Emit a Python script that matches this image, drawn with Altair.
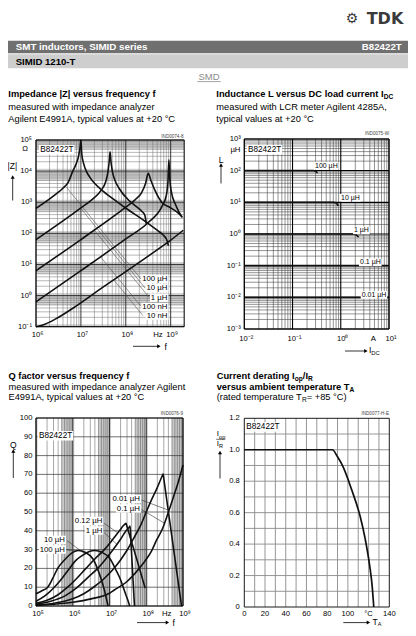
import math
import altair as alt
import pandas as pd

FONT = "Liberation Sans"
M = 8  # page margin

# ======================= values =======================
# --- |Z| versus f : log10(f/Hz) and log10(|Z|/ohm) along each curve ---
z_logf_100u = [6.0, 6.4, 6.6, 6.72, 6.82, 6.9, 6.95, 6.98, 7.0, 7.02, 7.06, 7.12, 7.2, 7.31, 7.5, 7.8, 8.06, 8.4, 8.7, 8.85, 8.91, 8.95]
z_logz_100u = [2.80, 3.21, 3.45, 3.65, 4.0, 4.25, 4.5, 4.75, 5.0, 4.55, 4.25, 4.0, 3.8, 3.6, 3.35, 3.02, 2.75, 2.42, 2.1, 1.92, 1.8, 1.6]
z_logf_10u = [6.0, 7.0, 7.3, 7.45, 7.55, 7.6, 7.63, 7.65, 7.67, 7.7, 7.76, 7.85, 8.06, 8.2, 8.35, 8.42, 8.46]
z_logz_10u = [1.80, 2.82, 3.15, 3.38, 3.65, 3.95, 4.3, 4.62, 4.3, 4.0, 3.7, 3.45, 3.07, 2.9, 2.72, 2.6, 2.3]
z_logf_1u = [6.0, 7.0, 8.0, 8.2, 8.35, 8.44, 8.5, 8.56, 8.65, 8.8, 9.0, 9.17, 9.24]
z_logz_1u = [0.80, 1.80, 2.84, 3.07, 3.3, 3.6, 3.93, 3.7, 3.38, 3.0, 2.82, 2.65, 2.55]
z_logf_100n = [6.0, 7.0, 8.0, 8.5, 8.8, 8.9, 8.94, 8.96, 8.98, 9.02, 9.1, 9.18, 9.26]
z_logz_100n = [-0.2, 0.8, 1.82, 2.35, 2.85, 3.2, 3.7, 4.36, 3.75, 3.3, 2.95, 2.7, 2.51]
z_logf_10n = [6.0, 6.2, 6.45, 6.9, 7.5, 8.0, 8.5, 9.0, 9.28]
z_logz_10n = [-1.0, -0.92, -0.74, -0.33, 0.28, 0.77, 1.27, 1.78, 2.1]
z_names = ["100 µH", "10 µH", "1 µH", "100 nH", "10 nH"]
z_lead_logf0 = [6.68, 7.00, 7.30, 7.44, 7.73]
z_lead_logz0 = [3.48, 2.80, 2.10, 1.24, 0.51]
z_lead_logf1 = [8.34, 8.43, 8.52, 8.34, 8.38]
z_lead_logz1 = [0.53, 0.24, -0.06, -0.35, -0.64]
z_xticks = [1e6, 1e7, 1e8, 1e9]
z_xlabels = ["10⁶", "10⁷", "10⁸", "10⁹"]
z_yticks = [1e-1, 1e0, 1e1, 1e2, 1e3, 1e4, 1e5]
z_ylabels = ["10⁻¹", "10⁰", "10¹", "10²", "10³", "10⁴", "10⁵"]

# --- L versus I_DC (A, µH) ---
l_i_100u = [0.01, 0.27, 0.30, 0.33]
l_l_100u = [100, 100, 96, 84]
l_i_10u = [0.01, 0.70, 0.80, 0.89]
l_l_10u = [10, 10, 9.5, 7.8]
l_i_1u = [0.01, 1.8, 2.05, 2.35]
l_l_1u = [1, 1, 0.95, 0.8]
l_i_01u = [0.01, 9.5]
l_l_01u = [0.1, 0.1]
l_i_001u = [0.01, 10]
l_l_001u = [0.01, 0.01]
l_names = ["100 µH", "10 µH", "1 µH", "0.1 µH", "0.01 µH"]
l_xticks = [0.01, 0.1, 1, 10]
l_xlabels = ["10⁻²", "10⁻¹", "10⁰", "10¹"]
l_yticks = [1e-3, 1e-2, 1e-1, 1e0, 1e1, 1e2, 1e3]
l_ylabels = ["10⁻³", "10⁻²", "10⁻¹", "10⁰", "10¹", "10²", "10³"]

# --- Q versus f : log10(f/Hz) and Q ---
q_logf_100u = [5.0, 5.15, 5.32, 5.45, 5.59, 5.8, 6.0, 6.15, 6.35, 6.55, 6.72, 6.86, 6.96]
q_q_100u = [6.5, 8, 10, 14.5, 20, 25, 28.5, 29.5, 28.5, 25, 17.4, 8.5, 0]
q_logf_10u = [5.0, 5.25, 5.5, 5.7, 5.91, 6.1, 6.27, 6.45, 6.6, 6.8, 7.0, 7.18, 7.3, 7.4, 7.5, 7.55]
q_q_10u = [2.5, 5.5, 10, 14.5, 20, 24.5, 27, 29, 29.5, 28.5, 25.5, 19, 14, 8.5, 3, 0]
q_logf_012u = [5.0, 5.3, 5.6, 5.86, 6.1, 6.36, 6.6, 6.86, 7.05, 7.27, 7.38, 7.43, 7.45, 7.47, 7.6, 7.8, 7.97]
q_q_012u = [1.5, 3.0, 6.0, 10, 14.5, 20, 25, 30, 34.5, 40, 42.8, 43.7, 44, 42.7, 34.2, 21, 9.5]
q_logf_1u = [5.0, 5.4, 5.8, 6.13, 6.4, 6.68, 6.9, 7.1, 7.3, 7.45, 7.54, 7.56, 7.58, 7.63, 7.68]
q_q_1u = [1.0, 2.5, 5.5, 10, 15, 20, 25, 30, 35.5, 40, 42, 42.5, 35.5, 17.5, 0]
q_logf_01u = [5.0, 5.5, 6.0, 6.3, 6.6, 6.85, 7.1, 7.3, 7.51, 7.7, 7.83, 8.0, 8.1, 8.3, 8.44, 8.46, 8.48, 8.96]
q_q_01u = [0.5, 1.5, 3.8, 6.5, 10.5, 14.5, 19.5, 24.5, 30.7, 37.5, 42.2, 50, 54.6, 63, 69.4, 70.2, 67.4, 0]
q_logf_001u = [5.0, 5.5, 6.0, 6.5, 7.0, 7.13, 7.47, 7.7, 7.92, 8.15, 8.28, 8.45, 8.56, 8.74, 8.88, 9.0]
q_q_001u = [0.3, 0.9, 2.0, 3.8, 6.8, 8.5, 12.9, 17.5, 22.7, 29.5, 35, 41.5, 47.5, 58, 66.5, 75]
q_names = ["0.01 µH", "0.1 µH", "0.12 µH", "1 µH", "10 µH", "100 µH"]
q_lead_logf0 = [7.871, 7.871, 6.85, 6.85, 5.844, 5.844]
q_lead_q0 = [56.4, 51.3, 44.0, 39.1, 34.8, 29.8]
q_lead_logf1 = [8.60, 8.50, 7.22, 7.20, 6.33, 6.10]
q_lead_q1 = [51.0, 44.0, 39.0, 32.8, 27.7, 29.3]
q_xticks = [1e5, 1e6, 1e7, 1e8, 1e9]
q_xlabels = ["10⁵", "10⁶", "10⁷", "10⁸", "10⁹"]
q_yticks = [0, 10, 20, 30, 40, 50, 60, 70, 80, 90, 100]
q_ylabels = ["0", "10", "20", "30", "40", "50", "60", "70", "80", "90", "100"]

# --- current derating I_op/I_R versus T_A ---
d_temp = [0, 85, 90, 95.5, 103.7, 111.9, 116.8, 121.1, 123.5, 125]
d_ratio = [1.0, 1.0, 0.955, 0.89, 0.745, 0.575, 0.43, 0.26, 0.13, 0.0]
d_xticks = [0, 20, 40, 60, 80, 100, 120, 140]
d_xlabels = ["0", "20", "40", "60", "80", "100", "°C", "140"]
d_yticks = [0, 0.2, 0.4, 0.6, 0.8, 1.0, 1.2]
d_ylabels = ["0", "0.2", "0.4", "0.6", "0.8", "1.0", "1.2"]

grid_mantissas = [1, 2, 3, 4, 5, 6, 7, 8, 9]

# ======================= helpers =======================
HR = {' ': 278, '(': 333, ')': 333, '+': 584, ',': 278, '-': 333, '.': 278, '/': 278, '=': 584, '°': 400, '|': 260, 'µ': 556,
      'A': 667, 'B': 667, 'C': 722, 'D': 722, 'E': 667, 'F': 611, 'G': 778, 'H': 722, 'I': 278, 'J': 500, 'K': 667, 'L': 556,
      'M': 833, 'N': 722, 'O': 778, 'P': 667, 'Q': 778, 'R': 722, 'S': 667, 'T': 611, 'U': 722, 'V': 667, 'W': 944, 'X': 667,
      'Y': 667, 'Z': 611, 'a': 556, 'b': 556, 'c': 500, 'd': 556, 'e': 556, 'f': 278, 'g': 556, 'h': 556, 'i': 222, 'j': 222,
      'k': 500, 'l': 222, 'm': 833, 'n': 556, 'o': 556, 'p': 556, 'q': 556, 'r': 333, 's': 500, 't': 278, 'u': 556, 'v': 500,
      'w': 722, 'x': 500, 'y': 500, 'z': 500}
HB = dict(HR)
HB.update({'|': 280, 'µ': 611, 'A': 722, 'B': 722, 'J': 556, 'K': 722, 'L': 611, 'b': 611, 'c': 556, 'd': 611, 'f': 333,
           'g': 611, 'h': 611, 'i': 278, 'j': 278, 'k': 556, 'l': 278, 'm': 889, 'n': 611, 'o': 611, 'p': 611, 'q': 611,
           'r': 389, 's': 556, 't': 333, 'u': 611, 'v': 556, 'w': 778, 'x': 556, 'y': 556})


def tw(s, size, bold=False):
    t = HB if bold else HR
    return sum(t.get(c, 556) for c in s) * size / 1000.0


dummy = pd.DataFrame({"k": [0]})


def txt(x, y, s, size, weight="normal", align="left", color="black", font=FONT):
    return alt.Chart(dummy).mark_text(text=s, fontSize=size, fontWeight=weight, align=align, baseline="middle",
                                      color=color, font=font).encode(x=alt.value(x - M), y=alt.value(y - M))


def runs(x, y, parts):
    out = []
    cx = x
    for s, size, bold, dy in parts:
        out.append(txt(cx, y + dy, s, size, "bold" if bold else "normal"))
        cx += tw(s, size, bold)
    return out


def prect(x0, y0, x1, y1, fill):
    return alt.Chart(dummy).mark_rect(color=fill).encode(
        x=alt.value(x0 - M), x2=alt.value(x1 - M), y=alt.value(y0 - M), y2=alt.value(y1 - M))


def prule(x0, y0, x1, y1, color="black", w=0.8):
    return alt.Chart(dummy).mark_rule(color=color, strokeWidth=w).encode(
        x=alt.value(x0 - M), x2=alt.value(x1 - M), y=alt.value(y0 - M), y2=alt.value(y1 - M))


def ppoint(x, y, shape, size=16):
    return alt.Chart(dummy).mark_point(shape=shape, filled=True, size=size, color="black", opacity=1).encode(
        x=alt.value(x - M), y=alt.value(y - M))


def varrow(x, ytip, ybot):
    return [prule(x, ytip + 2, x, ybot, "black", 0.8), ppoint(x, ytip + 1.6, "triangle-up")]


def harrow(y, x0, xtip):
    return [prule(x0, y, xtip - 2, y, "black", 0.8), ppoint(xtip - 1.6, y, "triangle-right")]


def lscale(dom, r):
    return alt.Scale(type="log", domain=dom, range=[r[0] - M, r[1] - M], nice=False)


def linscale(dom, r):
    return alt.Scale(type="linear", domain=dom, range=[r[0] - M, r[1] - M], nice=False, zero=False)


def X(f, s):
    return alt.X(f + ":Q", scale=s, axis=None)


def Y(f, s):
    return alt.Y(f + ":Q", scale=s, axis=None)


def log_vals(lo, hi):
    out = []
    for d in range(int(math.floor(math.log10(lo))), int(math.ceil(math.log10(hi))) + 1):
        for m in grid_mantissas:
            v = m * 10.0 ** d
            if lo * (1 - 1e-9) <= v <= hi * (1 + 1e-9):
                out.append((v, m == 1))
    return out


def vrules(xs, ys, vals, lo, hi, color, w):
    df = pd.DataFrame({"v": vals, "lo": [lo] * len(vals), "hi": [hi] * len(vals)})
    return alt.Chart(df).mark_rule(color=color, strokeWidth=w).encode(x=X("v", xs), y=Y("lo", ys), y2=alt.Y2("hi"))


def hrules(xs, ys, vals, lo, hi, color, w):
    df = pd.DataFrame({"v": vals, "lo": [lo] * len(vals), "hi": [hi] * len(vals)})
    return alt.Chart(df).mark_rule(color=color, strokeWidth=w).encode(y=Y("v", ys), x=X("lo", xs), x2=alt.X2("hi"))


def rects(xs, ys, x0, x1, y0, y1, color):
    df = pd.DataFrame({"a": x0, "b": x1, "c": y0, "d": y1})
    return alt.Chart(df).mark_rect(color=color).encode(x=X("a", xs), x2=alt.X2("b"), y=Y("c", ys), y2=alt.Y2("d"))


def frame(xs, ys, xd, yd, w=0.9):
    df = pd.DataFrame({"a": [xd[0]], "b": [xd[1]], "c": [yd[0]], "d": [yd[1]]})
    return alt.Chart(df).mark_rect(fillOpacity=0, stroke="black", strokeWidth=w).encode(
        x=X("a", xs), x2=alt.X2("b"), y=Y("c", ys), y2=alt.Y2("d"))


def curves(xs, ys, series, interp="monotone", w=1.6):
    rows = []
    for name, xv, yv in series:
        for a, b in zip(xv, yv):
            rows.append({"s": name, "x": a, "y": b})
    df = pd.DataFrame(rows)
    return alt.Chart(df).mark_line(color="#111111", strokeWidth=w, interpolate=interp).encode(
        x=X("x", xs), y=Y("y", ys), detail="s:N")


def segs(xs, ys, x0, y0, x1, y1, color, w):
    df = pd.DataFrame({"a": x0, "b": y0, "c": x1, "d": y1})
    return alt.Chart(df).mark_rule(color=color, strokeWidth=w).encode(
        x=X("a", xs), y=Y("b", ys), x2=alt.X2("c"), y2=alt.Y2("d"))


def ticktext(xs, ys, xv, yv, labels, align, dx=0, dy=0, size=7.6):
    df = pd.DataFrame({"x": xv, "y": yv, "t": labels})
    return alt.Chart(df).mark_text(font=FONT, fontSize=size, align=align, baseline="middle", dx=dx, dy=dy,
                                   color="black").encode(x=X("x", xs), y=Y("y", ys), text="t:N")


def p10(v):
    return [10.0 ** a for a in v]


# ======================= panel 1 : |Z| vs f =======================
ZD_X, ZD_Y = [1e6, 2e9], [1e-1, 1e5]
ZX = lscale(ZD_X, (36.0, 184.2))
ZY = lscale(ZD_Y, (326.7, 140.0))
zv = log_vals(*ZD_X)
zh = log_vals(*ZD_Y)
zb0, zb1 = [], []
for d in range(-2, 5):
    lo, hi = max(5 * 10.0 ** d, ZD_Y[0]), min(1.2 * 10.0 ** (d + 1), ZD_Y[1])
    if lo < hi:
        zb0.append(lo)
        zb1.append(hi)
p1 = alt.layer(
    rects(ZX, ZY, [ZD_X[0]] * len(zb0), [ZD_X[1]] * len(zb0), zb0, zb1, "#d2d2d2"),
    vrules(ZX, ZY, [v for v, mj in zv if not mj], ZD_Y[0], ZD_Y[1], "#6e6e6e", 0.5),
    hrules(ZX, ZY, [v for v, mj in zh if not mj], ZD_X[0], ZD_X[1], "#6e6e6e", 0.5),
    vrules(ZX, ZY, [v for v, mj in zv if mj], ZD_Y[0], ZD_Y[1], "#222222", 0.9),
    hrules(ZX, ZY, [v for v, mj in zh if mj], ZD_X[0], ZD_X[1], "#222222", 0.9),
    segs(ZX, ZY, p10(z_lead_logf0), p10(z_lead_logz0), p10(z_lead_logf1), p10(z_lead_logz1), "#555555", 0.6),
    curves(ZX, ZY, [("100 µH", p10(z_logf_100u), p10(z_logz_100u)),
                    ("10 µH", p10(z_logf_10u), p10(z_logz_10u)),
                    ("1 µH", p10(z_logf_1u), p10(z_logz_1u)),
                    ("100 nH", p10(z_logf_100n), p10(z_logz_100n)),
                    ("10 nH", p10(z_logf_10n), p10(z_logz_10n))]),
    frame(ZX, ZY, ZD_X, ZD_Y),
    ticktext(ZX, ZY, z_xticks, [ZD_Y[0]] * 4, z_xlabels, "center", dx=1.5, dy=8.5),
    ticktext(ZX, ZY, [ZD_X[0]] * 7, z_yticks, z_ylabels, "right", dx=-4),
)

# ======================= panel 2 : L vs I_DC =======================
LD_X, LD_Y = [0.01, 10], [1e-3, 1e3]
LX = lscale(LD_X, (244.3, 389.0))
LY = lscale(LD_Y, (329.0, 139.0))
lv = log_vals(*LD_X)
lh = log_vals(*LD_Y)
p2 = alt.layer(
    vrules(LX, LY, [v for v, mj in lv if not mj], LD_Y[0], LD_Y[1], "#3c3c3c", 0.55),
    hrules(LX, LY, [v for v, mj in lh if not mj], LD_X[0], LD_X[1], "#3c3c3c", 0.55),
    vrules(LX, LY, [v for v, mj in lv if mj], LD_Y[0], LD_Y[1], "#000000", 1.1),
    hrules(LX, LY, [v for v, mj in lh if mj], LD_X[0], LD_X[1], "#000000", 1.1),
    curves(LX, LY, [("100 µH", l_i_100u, l_l_100u), ("10 µH", l_i_10u, l_l_10u), ("1 µH", l_i_1u, l_l_1u),
                    ("0.1 µH", l_i_01u, l_l_01u), ("0.01 µH", l_i_001u, l_l_001u)]),
    frame(LX, LY, LD_X, LD_Y),
    ticktext(LX, LY, l_xticks, [LD_Y[0]] * 4, l_xlabels, "center", dx=2, dy=9.5),
    ticktext(LX, LY, [LD_X[0]] * 7, l_yticks, l_ylabels, "right", dx=-3.5),
)

# ======================= panel 3 : Q vs f =======================
QD_X, QD_Y = [1e5, 1e9], [0, 100]
QX = lscale(QD_X, (36.0, 183.0))
QY = linscale(QD_Y, (606.0, 418.0))
qv = log_vals(*QD_X)
qb0, qb1 = [], []
for d in range(4, 9):
    lo, hi = max(5 * 10.0 ** d, QD_X[0]), min(1.1 * 10.0 ** (d + 1), QD_X[1])
    if lo < hi:
        qb0.append(lo)
        qb1.append(hi)
p3 = alt.layer(
    rects(QX, QY, qb0, qb1, [QD_Y[0]] * len(qb0), [QD_Y[1]] * len(qb0), "#c9c9c9"),
    vrules(QX, QY, [v for v, mj in qv if not mj], QD_Y[0], QD_Y[1], "#505050", 0.5),
    vrules(QX, QY, [v for v, mj in qv if mj], QD_Y[0], QD_Y[1], "#222222", 0.9),
    hrules(QX, QY, q_yticks, QD_X[0], QD_X[1], "#333333", 0.7),
    segs(QX, QY, p10(q_lead_logf0), q_lead_q0, p10(q_lead_logf1), q_lead_q1, "#333333", 0.6),
    curves(QX, QY, [("100 µH", p10(q_logf_100u), q_q_100u), ("10 µH", p10(q_logf_10u), q_q_10u),
                    ("0.12 µH", p10(q_logf_012u), q_q_012u), ("1 µH", p10(q_logf_1u), q_q_1u),
                    ("0.1 µH", p10(q_logf_01u), q_q_01u), ("0.01 µH", p10(q_logf_001u), q_q_001u)]),
    frame(QX, QY, QD_X, QD_Y),
    ticktext(QX, QY, q_xticks, [QD_Y[0]] * 5, q_xlabels, "center", dx=2, dy=8),
    ticktext(QX, QY, [QD_X[0]] * 11, q_yticks, q_ylabels, "right", dx=-3.5),
)

# ======================= panel 4 : derating =======================
DD_X, DD_Y = [0, 140], [0, 1.2]
DX = linscale(DD_X, (244.3, 389.3))
DY = linscale(DD_Y, (607.0, 418.3))
p4 = alt.layer(
    vrules(DX, DY, list(range(10, 140, 10)), DD_Y[0], DD_Y[1], "#8a8a8a", 0.9),
    hrules(DX, DY, [round(0.1 * k, 1) for k in range(1, 12)], DD_X[0], DD_X[1], "#8a8a8a", 0.9),
    curves(DX, DY, [("derating", d_temp, d_ratio)], w=1.7),
    frame(DX, DY, DD_X, DD_Y),
    ticktext(DX, DY, d_xticks, [DD_Y[0]] * 8, d_xlabels, "center", dy=7),
    ticktext(DX, DY, [DD_X[0]] * 7, d_yticks, d_ylabels, "right", dx=-4.5),
)

# ======================= page decoration (text) =======================
deco = []
deco += [prect(7.7, 40.7, 410, 53.3, "#707070"), prect(7.7, 54.3, 410, 68.3, "#cecece")]
deco.append(txt(15.7, 47.3, "SMT inductors, SIMID series", 9.8, "bold", color="white"))
deco.append(txt(401.7, 47.3, "B82422T", 9.7, "bold", "right", "white"))
deco.append(txt(15.7, 61.5, "SIMID 1210-T", 9.6, "bold"))
deco.append(txt(209, 76.6, "SMD", 9.5, align="center", color="#8a8a8a"))
deco.append(prule(197.4, 81.6, 220.6, 81.6, "#8a8a8a", 0.8))
deco.append(txt(352, 19.0, "⚙", 14, "bold", "center", "#3a3a3a", font="DejaVu Sans"))
deco.append(txt(385.0, 19.2, "TDK", 16, "bold", "center", "#3a3a3a", font="DejaVu Sans"))

T = 9.3
S = 6.6
deco.append(txt(8.3, 94.3, "Impedance |Z| versus frequency f", T, "bold"))
deco.append(txt(8.3, 106.7, "measured with impedance analyzer", T))
deco.append(txt(8.3, 118.7, "Agilent E4991A, typical values at +20 °C", T))
deco += runs(216.3, 94.3, [("Inductance L versus DC load current I", T, True, 0), ("DC", S, True, 2.8)])
deco.append(txt(216.3, 106.7, "measured with LCR meter Agilent 4285A,", T))
deco.append(txt(216.3, 118.7, "typical values at +20 °C", T))
deco.append(txt(8.5, 375.7, "Q factor versus frequency f", T, "bold"))
deco.append(txt(8.5, 386.7, "measured with impedance analyzer Agilent", T))
deco.append(txt(8.5, 397.3, "E4991A, typical values at +20 °C", T))
deco += runs(216.7, 375.7, [("Current derating I", T, True, 0), ("op", S, True, 2.8), ("/I", T, True, 0), ("R", S, True, 2.8)])
deco += runs(216.7, 386.7, [("versus ambient temperature T", T, True, 0), ("A", S, True, 2.8)])
deco += runs(216.7, 397.3, [("(rated temperature T", T, False, 0), ("R", S, False, 2.8), (" = +85 °C)", T, False, 0)])

# chart ids
deco.append(txt(183.5, 137.0, "IND0074-8", 4.6, align="right", color="#444444"))
deco.append(txt(389.0, 134.3, "IND0075-W", 4.6, align="right", color="#444444"))
deco.append(txt(183.0, 414.3, "IND0076-9", 4.6, align="right", color="#444444"))
deco.append(txt(389.0, 414.3, "IND0077-H-E", 4.6, align="right", color="#444444"))

# type boxes
for (bx, by) in [(39.0, 145.0), (246.7, 145.0), (37.7, 431.0), (245.0, 422.3)]:
    deco.append(prect(bx, by, bx + 35.5, by + 9.4, "white"))
    deco.append(txt(bx + 1.3, by + 4.8, "B82422T", 8.2))

# axis names and arrows
deco.append(txt(25, 148.6, "Ω", 7.6, align="center"))
deco.append(txt(12.3, 165.5, "|Z|", 8.5, align="center"))
deco += varrow(12.7, 175.5, 200.5)
deco.append(txt(158, 335.2, "Hz", 7.8, align="center"))
deco.append(txt(165.8, 346.5, "f", 8.5, align="center"))
deco += harrow(346.3, 133, 160.5)

deco.append(txt(240.5, 150.0, "µH", 7.8, align="right"))
deco.append(txt(221, 159.8, "L", 8.5, align="center"))
deco += varrow(221, 163.5, 183.5)
deco.append(txt(373.3, 338.5, "A", 7.8, align="center"))
deco += runs(369.0, 350.2, [("I", 8.5, False, 0), ("DC", 5.8, False, 2.6)])
deco += harrow(351, 345, 367.5)

deco.append(txt(13.3, 445, "Q", 8.5, align="center"))
deco += varrow(13.3, 449.5, 478)
deco.append(txt(166.7, 613.6, "Hz", 7.8, align="center"))
deco.append(txt(173.8, 622.6, "f", 8.5, align="center"))
deco += harrow(622.6, 137, 169)

deco += runs(216.8, 434.3, [("I", 8.0, False, 0), ("op", 5.6, False, 2.3)])
deco.append(prule(216.3, 439.3, 225.3, 439.3, "black", 0.6))
deco += runs(216.8, 443.6, [("I", 8.0, False, 0), ("R", 5.6, False, 2.3)])
deco += varrow(220, 451, 478.5)
deco += runs(372.5, 622.2, [("T", 8.5, False, 0), ("A", 5.4, False, 2.2)])
deco += harrow(622.6, 343.3, 370)

# curve labels with white backgrounds
for name, yy in zip(z_names, [279.0, 288.3, 297.7, 307.0, 315.7]):
    w = tw(name, 7.8)
    deco.append(prect(167.5 - w - 1.0, yy - 4.2, 168.5, yy + 4.2, "white"))
    deco.append(txt(167.5, yy, name, 7.8, align="right"))
for name, (lx, yy) in zip(l_names, [(315.0, 165.7), (341.0, 197.7), (354.0, 230.3), (360.0, 262.3), (361.7, 295.0)]):
    w = tw(name, 7.0)
    deco.append(prect(lx - 1.0, yy - 3.9, lx + w + 1.0, yy + 3.9, "white"))
    deco.append(txt(lx, yy, name, 7.0))
for name, (rx, yy) in zip(q_names, [(140.0, 499.0), (140.0, 508.5), (102.3, 521.0), (102.3, 530.5), (65.0, 540.0), (65.0, 549.5)]):
    w = tw(name, 7.8)
    deco.append(prect(rx - w - 1.0, yy - 4.2, rx + 1.0, yy + 4.2, "white"))
    deco.append(txt(rx, yy, name, 7.8, align="right"))

chart = alt.layer(p1, p2, p3, p4, *deco).resolve_scale(x="independent", y="independent").properties(
    width=400, height=620, padding=0, autosize=alt.AutoSizeParams(type="none"), background="white"
).configure_view(stroke=None)

chart.save("out.html", embed_options={"renderer": "svg", "actions": False})
